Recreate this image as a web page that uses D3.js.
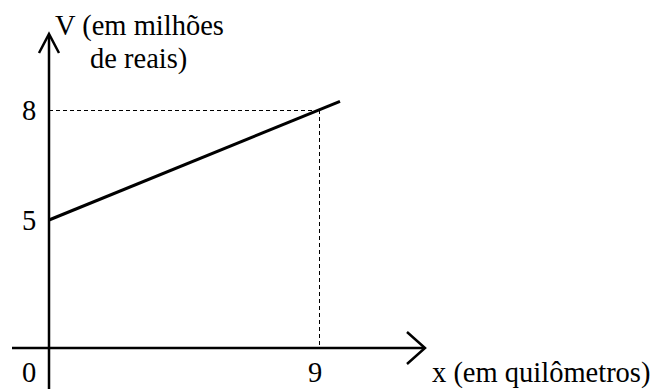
<!DOCTYPE html>
<html>
<head>
<meta charset="utf-8">
<script src="https://cdn.jsdelivr.net/npm/d3@7"></script>
<style>
  body { margin: 0; background: #fff; }
  svg text { font-family: "Liberation Serif", "Times New Roman", serif; fill: #000; }
</style>
</head>
<body>
<div id="chart"></div>
<script>
// data
var xTicks = [0, 9];
var yTicks = [5, 8];
var lineX = [0, 9.7];
var lineV = [5, 5 + 9.7 / 3];   // V = 5 + x/3
var markX = [9];
var markV = [8];
var yLabel = ["V (em milhões", "de reais)"];
var xLabel = "x (em quilômetros)";

var width = 656, height = 389;
var fs = "28.5px";

var svg = d3.select("#chart").append("svg")
	.attr("width", width)
	.attr("height", height);

// x scale: 30px per km from the origin
var x = d3.scaleLinear().domain([0, 9]).range([49, 319]);
// y axis is not to scale below 5, so use a piecewise scale
var y = d3.scaleLinear().domain([0, 5, 8]).range([348, 220, 110]);

// axes lines
svg.append("line")
	.attr("x1", x(0)).attr("x2", x(0))
	.attr("y1", height).attr("y2", 35)
	.attr("stroke", "#000").attr("stroke-width", 2.5);
svg.append("line")
	.attr("x1", 12).attr("x2", 424)
	.attr("y1", y(0)).attr("y2", y(0))
	.attr("stroke", "#000").attr("stroke-width", 2.5);

// open arrow heads
svg.append("path")
	.attr("d", "M" + (x(0) - 10) + "," + 53 + "L" + x(0) + "," + 34 + "L" + (x(0) + 10) + "," + 53)
	.attr("fill", "none").attr("stroke", "#000").attr("stroke-width", 2.5);
svg.append("path")
	.attr("d", "M" + 407 + "," + (y(0) - 16) + "L" + 425 + "," + y(0) + "L" + 407 + "," + (y(0) + 16))
	.attr("fill", "none").attr("stroke", "#000").attr("stroke-width", 2.5);

// dashed guide lines to the marked point
markX.forEach(function(d, i){
	svg.append("line")
		.attr("x1", x(0)).attr("x2", x(d))
		.attr("y1", y(markV[i]) + 0.5).attr("y2", y(markV[i]) + 0.5)
		.attr("stroke", "#000").attr("stroke-width", 1)
		.attr("stroke-dasharray", "4,3");
	svg.append("line")
		.attr("x1", x(d) + 0.5).attr("x2", x(d) + 0.5)
		.attr("y1", y(markV[i])).attr("y2", y(0))
		.attr("stroke", "#000").attr("stroke-width", 1)
		.attr("stroke-dasharray", "4,3");
});

// the line V(x)
var pts = lineX.map(function(d, i){ return [d, lineV[i]]; });
svg.append("path")
	.datum(pts)
	.attr("d", d3.line().x(function(d){ return x(d[0]); }).y(function(d){ return y(d[1]); }))
	.attr("fill", "none").attr("stroke", "#000").attr("stroke-width", 3);

// tick labels
svg.selectAll("text.ytick")
	.data(yTicks)
	.enter().append("text")
	.attr("class", "ytick")
	.attr("x", 29)
	.attr("y", function(d){ return y(d) + 10; })
	.attr("text-anchor", "middle")
	.attr("font-size", fs)
	.text(function(d){ return d; });

svg.selectAll("text.xtick")
	.data(xTicks)
	.enter().append("text")
	.attr("class", "xtick")
	.attr("x", function(d){ return d === 0 ? 29 : x(d) - 4; })
	.attr("y", 382)
	.attr("text-anchor", "middle")
	.attr("font-size", fs)
	.text(function(d){ return d; });

// axis titles
svg.append("text")
	.attr("x", 55).attr("y", 35)
	.attr("font-size", fs)
	.text(yLabel[0]);
svg.append("text")
	.attr("x", 90).attr("y", 68)
	.attr("font-size", fs)
	.text(yLabel[1]);
svg.append("text")
	.attr("x", 432).attr("y", 382)
	.attr("font-size", fs)
	.text(xLabel);
</script>
</body>
</html>
